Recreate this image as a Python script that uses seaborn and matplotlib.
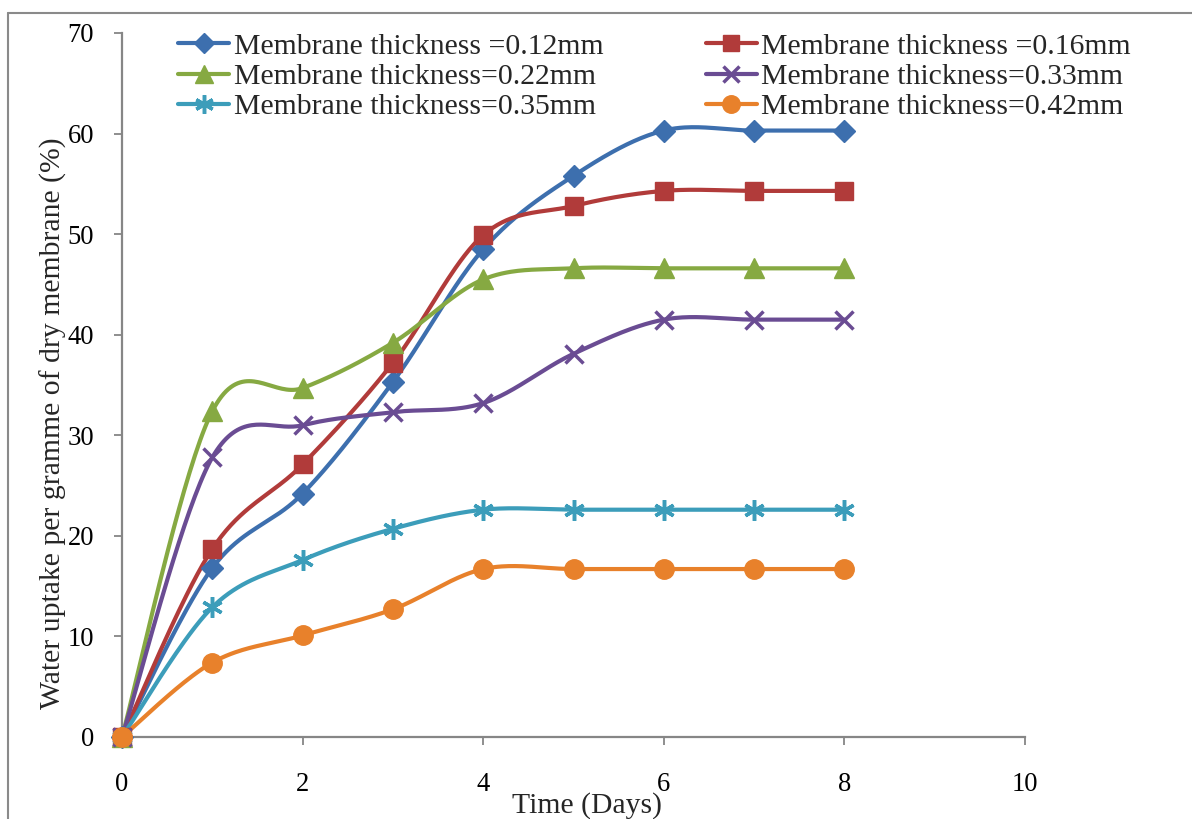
import numpy as np
import pandas as pd
import matplotlib
matplotlib.use("Agg")
import matplotlib.pyplot as plt
import seaborn as sns
from matplotlib.lines import Line2D

# ---- data ----
days = [0, 1, 2, 3, 4, 5, 6, 7, 8]
labels = ["Membrane thickness =0.12mm", "Membrane thickness =0.16mm",
          "Membrane thickness=0.22mm", "Membrane thickness=0.33mm",
          "Membrane thickness=0.35mm", "Membrane thickness=0.42mm"]
t012 = [0, 16.8, 24.2, 35.3, 48.5, 55.8, 60.3, 60.3, 60.3]
t016 = [0, 18.7, 27.1, 37.2, 49.9, 52.8, 54.3, 54.3, 54.3]
t022 = [0, 32.4, 34.7, 39.2, 45.5, 46.6, 46.6, 46.6, 46.6]
t033 = [0, 27.8, 31.0, 32.3, 33.2, 38.1, 41.5, 41.5, 41.5]
t035 = [0, 12.9, 17.6, 20.7, 22.6, 22.6, 22.6, 22.6, 22.6]
t042 = [0, 7.4, 10.1, 12.7, 16.7, 16.7, 16.7, 16.7, 16.7]
series = [t012, t016, t022, t033, t035, t042]
xticks = [0, 2, 4, 6, 8, 10]
yticks = [0, 10, 20, 30, 40, 50, 60, 70]

colors = ["#3D6FAE", "#B13B3A", "#86A942", "#6A4C93", "#3C9DBA", "#E8812B"]
markers = ["D", "s", "^", "x", (6, 2, 0), "o"]
msizes = [11, 13, 14, 13, 15, 14]
mews = [1, 1, 1, 2.5, 2.5, 1]


def smooth(x, y, n=40):
    """Excel-style smoothed line (Catmull-Rom Bezier) for drawing."""
    x = np.asarray(x, float)
    y = np.asarray(y, float)
    px = np.concatenate([[x[0]], x, [x[-1]]])
    py = np.concatenate([[y[0]], y, [y[-1]]])
    t = np.linspace(0, 1, n)
    xs, ys = [], []
    for i in range(len(x) - 1):
        p0 = np.array([px[i], py[i]])
        p1 = np.array([px[i + 1], py[i + 1]])
        p2 = np.array([px[i + 2], py[i + 2]])
        p3 = np.array([px[i + 3], py[i + 3]])
        c1 = p1 + (p2 - p0) / 6
        c2 = p2 - (p3 - p1) / 6
        b = ((1 - t) ** 3)[:, None] * p1 + (3 * (1 - t) ** 2 * t)[:, None] * c1 \
            + (3 * (1 - t) * t ** 2)[:, None] * c2 + (t ** 3)[:, None] * p2
        xs.extend(b[:, 0])
        ys.extend(b[:, 1])
    return xs, ys


sns.set_theme(style="white")
plt.rcParams['font.family'] = ['Liberation Serif', 'DejaVu Serif']

fig = plt.figure(figsize=(11.92, 8.19), dpi=100)
ax = fig.add_axes([122 / 1192, 1 - 737 / 819, (1025 - 122) / 1192, (737 - 33) / 819])

rows = []
for lab, vals in zip(labels, series):
    xs, ys = smooth(days, vals)
    for i, (a, b) in enumerate(zip(xs, ys)):
        rows.append({"series": lab, "x": a, "y": b, "order": i})
df = pd.DataFrame(rows)

sns.lineplot(data=df, x="x", y="y", hue="series", palette=dict(zip(labels, colors)),
             sort=False, estimator=None, units="series", linewidth=3.0,
             legend=False, ax=ax, zorder=2)

for vals, c, m, ms, mew in zip(series, colors, markers, msizes, mews):
    ax.plot(days, vals, linestyle="none", marker=m, markersize=ms, color=c,
            markeredgecolor=c, markeredgewidth=mew, zorder=3, clip_on=False)

ax.set_xlim(0, 10)
ax.set_ylim(0, 70)
ax.set_xticks(xticks)
ax.set_yticks(yticks)
ax.set_xlabel("")
ax.set_ylabel("")
for s in ["top", "right"]:
    ax.spines[s].set_visible(False)
for s in ["left", "bottom"]:
    ax.spines[s].set_color("#868686")
    ax.spines[s].set_linewidth(1.6)
ax.tick_params(axis="both", which="major", direction="out", length=6, width=1.3,
               color="#868686", labelsize=19.2, labelcolor="black")
ax.tick_params(axis="y", pad=14, left=True)
ax.tick_params(axis="x", pad=19, bottom=True)

fig.text(53 / 1192, 1 - 423 / 819, "Water uptake per gramme of dry membrane (%)",
         rotation=90, ha="center", va="center", fontsize=21.4)
fig.text(587 / 1192, 1 - 813 / 819, "Time (Days)", ha="center", va="baseline",
         fontsize=21.4)

# legend: row-wise order -> column-major handles
handles = []
for c, m, ms, mew in zip(colors, markers, msizes, mews):
    handles.append(Line2D([], [], color=c, linewidth=3.0, marker=m, markersize=ms * 0.9,
                          markeredgecolor=c, markeredgewidth=mew))
order = [0, 2, 4, 1, 3, 5]
fig.legend([handles[i] for i in order], [labels[i] for i in order], ncol=2,
           loc="upper left", bbox_to_anchor=(178 / 1192, 1 - 33 / 819),
           frameon=False, fontsize=21.4, borderpad=0, borderaxespad=0,
           handlelength=1.72, handletextpad=0.15, columnspacing=3.45,
           labelspacing=0.115)

# figure border (left & top)
fig.add_artist(Line2D([8 / 1192, 8 / 1192], [0, 1 - 13 / 819], color="#8a8a8a",
                      linewidth=1.5, transform=fig.transFigure))
fig.add_artist(Line2D([8 / 1192, 1], [1 - 13 / 819, 1 - 13 / 819], color="#8a8a8a",
                      linewidth=1.5, transform=fig.transFigure))

fig.savefig("out.png", dpi=100, facecolor="white")
